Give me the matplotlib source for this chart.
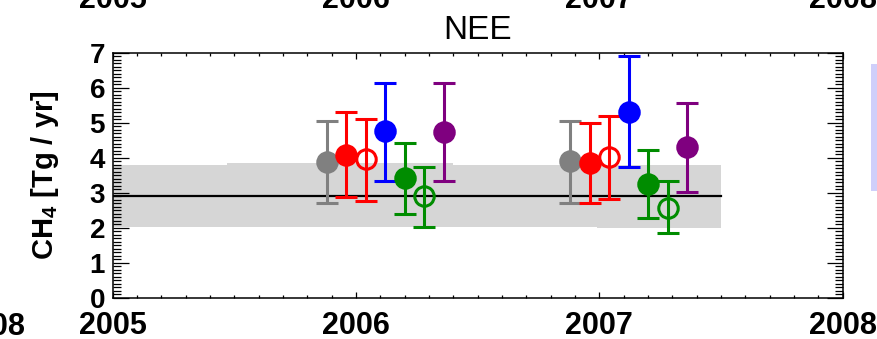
import numpy as np
import matplotlib
matplotlib.use("Agg")
import matplotlib.pyplot as plt
from matplotlib.patches import Rectangle

plt.rcParams['font.family'] = ['Liberation Sans', 'DejaVu Sans']
plt.rcParams['mathtext.fontset'] = 'custom'
plt.rcParams['mathtext.rm'] = 'Liberation Sans:bold'
plt.rcParams['mathtext.default'] = 'rm'

# ---------------------------- data ----------------------------
years = [2006, 2007]
offsets = [-0.12, -0.04, 0.04, 0.12, 0.20, 0.28, 0.36]
colors = ['#808080', '#FF0000', '#FF0000', '#0000FF', '#008C00', '#008C00', '#7F007F']
filled = [True, True, False, True, True, False, True]

# mean, lower, upper for each series (2006, 2007)
means = [[3.89, 3.91], [4.08, 3.84], [3.95, 4.01], [4.76, 5.31],
         [3.41, 3.25], [2.91, 2.57], [4.74, 4.30]]
lows = [[2.71, 2.71], [2.89, 2.70], [2.77, 2.82], [3.33, 3.73],
        [2.38, 2.27], [2.03, 1.84], [3.33, 3.01]]
highs = [[5.06, 5.06], [5.30, 5.00], [5.12, 5.20], [6.14, 6.91],
         [4.43, 4.22], [3.74, 3.34], [6.14, 5.57]]

band_x = [2005.0, 2005.47, 2006.4, 2006.99, 2007.5]
band_lo = [2.02, 2.02, 2.02, 1.99, 1.99]
band_hi = [3.80, 3.84, 3.80, 3.80, 3.80]
mean_line = 2.92
mean_x = [2005.0, 2007.5]

xticks = [2005, 2006, 2007, 2008]

# ---------------------------- figure ----------------------------
fig = plt.figure(figsize=(8.77, 3.39), dpi=100)
ax = fig.add_axes([0.1285, 0.1218, 0.8324, 0.7227])

ax.fill_between(band_x, band_lo, band_hi, step='post', color='#D6D6D6', lw=0, zorder=1)
ax.plot(mean_x, [mean_line, mean_line], color='black', lw=1.6, zorder=2)

for i in range(len(offsets)):
    x = np.array(years) + offsets[i]
    m = np.array(means[i])
    err = [m - np.array(lows[i]), np.array(highs[i]) - m]
    ax.errorbar(x, m, yerr=err, fmt='o', color=colors[i], ms=14, mew=2.2,
                mfc=colors[i] if filled[i] else 'none', mec=colors[i],
                elinewidth=2.2, capsize=8, capthick=2.2, zorder=3 + i)

ax.set_xlim(2005, 2008)
ax.set_ylim(0, 7)
ax.set_xticks(xticks)
ax.set_xticklabels([str(t) for t in xticks])
ax.set_xticks(np.arange(2005, 2008.01, 0.1), minor=True)
ax.set_yticks(range(0, 8))
ax.set_yticks(np.arange(0, 7.01, 0.1), minor=True)

ax.tick_params(axis='y', which='major', direction='in', length=11.5, width=0.9,
               left=True, right=True, labelsize=20, pad=5.5)
ax.tick_params(axis='y', which='minor', direction='in', length=5.8, width=0.9,
               left=True, right=True)
ax.tick_params(axis='x', which='major', direction='in', length=4.5, width=0.9,
               top=True, bottom=True, labelsize=22, pad=9.5)
ax.tick_params(axis='x', which='minor', direction='in', length=2.3, width=0.9,
               top=True, bottom=True)
for lab in ax.get_xticklabels() + ax.get_yticklabels():
    lab.set_fontweight('bold')
for sp in ax.spines.values():
    sp.set_linewidth(1.1)

ax.set_ylabel(r'CH$_4$ [Tg / yr]', fontsize=21, fontweight='bold')
ax.yaxis.set_label_coords(-0.071, 0.5)
ax.set_title('NEE', fontsize=24, pad=10)

# pieces of the neighbouring panels that are cut by the crop
for t in xticks:
    fx = 0.1285 + 0.8324 * (t - 2005) / 3.0
    fig.text(fx, 1 - 8 / 339, str(t), ha='center', va='baseline',
             fontsize=22, fontweight='bold')
fig.text(25 / 877, 4 / 339, '2008', ha='right', va='baseline',
         fontsize=22, fontweight='bold')
fig.patches.append(Rectangle((870.7 / 877, 0.4375), 0.01, 0.3735,
                             transform=fig.transFigure, color='#CFCFFA', lw=0))

fig.savefig('out.png', dpi=100)
